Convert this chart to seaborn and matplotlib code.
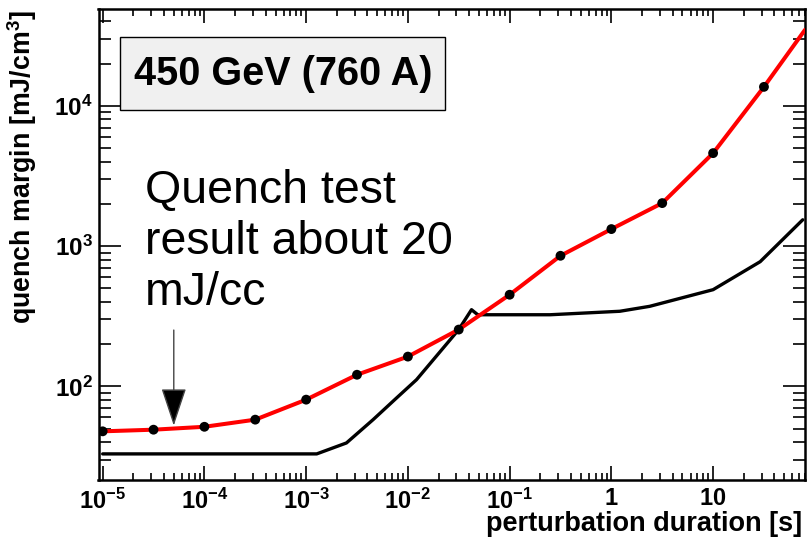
import numpy as np
import pandas as pd
import matplotlib
matplotlib.use("Agg")
import matplotlib.pyplot as plt
import seaborn as sns
from matplotlib.ticker import FixedLocator, FixedFormatter, LogLocator, NullFormatter
from matplotlib.patches import Rectangle

# ---------------- data ----------------
red_x = [1e-5, 3.16e-5, 1e-4, 3.16e-4, 1e-3, 3.16e-3, 1e-2, 3.16e-2, 0.1, 0.316, 1, 3.16, 10, 31.6]
red_y = [47.8, 49.1, 51.5, 57.9, 80.4, 121, 163, 254, 450, 853, 1322, 2025, 4600, 13650]
red_line_x = red_x + [80]
red_line_y = red_y + [34800]

black_x = [1e-5, 1.27e-3, 2.49e-3, 4.55e-3, 7.73e-3, 0.01216, 0.0316, 0.0422, 0.0486,
           0.25, 1.21, 2.38, 10, 29, 76]
black_y = [33, 33, 39.5, 57.9, 82.6, 111.6, 254, 352, 324, 324, 343, 372, 489, 774, 1540]

x_ticks = [1e-5, 1e-4, 1e-3, 1e-2, 1e-1, 1, 10]
x_tick_labels = [r"$\mathbf{10^{-5}}$", r"$\mathbf{10^{-4}}$", r"$\mathbf{10^{-3}}$",
                 r"$\mathbf{10^{-2}}$", r"$\mathbf{10^{-1}}$", r"$\mathbf{1}$", r"$\mathbf{10}$"]
y_ticks = [1e2, 1e3, 1e4]
y_tick_labels = [r"$\mathbf{10^{2}}$", r"$\mathbf{10^{3}}$", r"$\mathbf{10^{4}}$"]

x_label = "perturbation duration [s]"
y_label = r"quench margin [mJ/cm$^{\mathbf{3}}$]"
box_text = "450 GeV (760 A)"
note_text = "Quench test\nresult about 20\nmJ/cc"

# ---------------- style ----------------
sns.set_style("ticks")
plt.rcParams["font.family"] = ["Liberation Sans", "DejaVu Sans"]
plt.rcParams["mathtext.fontset"] = "custom"
plt.rcParams["mathtext.rm"] = "Liberation Sans"
plt.rcParams["mathtext.bf"] = "Liberation Sans:bold"
plt.rcParams["mathtext.it"] = "Liberation Sans:italic"
for k in ["text.color", "axes.labelcolor", "xtick.color", "ytick.color",
          "xtick.labelcolor", "ytick.labelcolor", "axes.edgecolor"]:
    plt.rcParams[k] = "black"

W, H = 807, 543
fig = plt.figure(figsize=(W / 100, H / 100), dpi=100)
L, R, T, B = 98.5, 805, 9, 480
ax = fig.add_axes([L / W, 1 - B / H, (R - L) / W, (B - T) / H])

df_red = pd.DataFrame({"x": red_line_x, "y": red_line_y})
df_pts = pd.DataFrame({"x": red_x, "y": red_y})
df_blk = pd.DataFrame({"x": black_x, "y": black_y})

sns.lineplot(data=df_blk, x="x", y="y", ax=ax, color="black", lw=2.4,
             estimator=None, sort=False, zorder=2)
sns.lineplot(data=df_red, x="x", y="y", ax=ax, color="red", lw=2.9,
             estimator=None, sort=False, zorder=3)
sns.scatterplot(data=df_pts, x="x", y="y", ax=ax, color="black", s=50,
                edgecolor="none", zorder=4)

ax.set_xscale("log")
ax.set_yscale("log")
ax.set_xlim(9.1e-6, 80)
ax.set_ylim(21.5, 49000)

ax.xaxis.set_major_locator(FixedLocator(x_ticks))
ax.xaxis.set_major_formatter(FixedFormatter(x_tick_labels))
ax.xaxis.set_minor_locator(LogLocator(base=10, subs=np.arange(2, 10), numticks=30))
ax.xaxis.set_minor_formatter(NullFormatter())
ax.yaxis.set_major_locator(FixedLocator(y_ticks))
ax.yaxis.set_major_formatter(FixedFormatter(y_tick_labels))
ax.yaxis.set_minor_locator(LogLocator(base=10, subs=np.arange(2, 10), numticks=30))
ax.yaxis.set_minor_formatter(NullFormatter())

ax.tick_params(which="both", direction="in", top=True, right=True, width=1.2, color="black")
ax.tick_params(axis="x", which="major", length=10, pad=6, labelsize=17)
ax.tick_params(axis="x", which="minor", length=5)
ax.tick_params(axis="y", which="major", length=16, pad=4, labelsize=17.5)
ax.tick_params(axis="y", which="minor", length=8.5)
for s in ax.spines.values():
    s.set_linewidth(1.8)
    s.set_color("black")

ax.set_xlabel("")
ax.set_ylabel("")
fig.text(802 / W, 1 - 531 / H, x_label, ha="right", va="baseline",
         fontsize=19.5, fontweight="bold", color="black")
fig.text(22 / W, 1 - 10 / H, y_label, ha="center", va="top", rotation=90,
         fontsize=19.3, fontweight="bold", color="black")

# label box
fig.patches.append(Rectangle((120 / W, 1 - 110 / H), 325 / W, 73 / H,
                             transform=fig.transFigure, facecolor="#f0f0f0",
                             edgecolor="black", lw=1.0, zorder=5))
fig.text(283 / W, 1 - 74 / H, box_text, ha="center", va="center",
         fontsize=28.5, fontweight="bold", color="black", zorder=6)

# annotation text
fig.text(145 / W, 1 - 169 / H, note_text, ha="left", va="top",
         fontsize=33.5, linespacing=1.2, color="black", zorder=6)

# arrow
ax.annotate("", xy=(5e-5, 52.5), xytext=(5e-5, 252),
            arrowprops=dict(arrowstyle="-|>,head_length=2.4,head_width=0.8",
                            lw=1.0, ec="#444444", fc="black",
                            shrinkA=0, shrinkB=0))

fig.savefig("out.png", dpi=100)
